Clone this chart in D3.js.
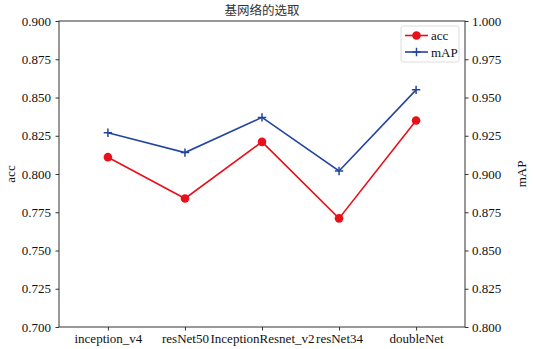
<!DOCTYPE html>
<html>
<head>
<meta charset="utf-8">
<script src="https://cdn.jsdelivr.net/npm/d3@7"></script>
<style>
  body { margin: 0; background: #fff; }
  svg text { font-family: "Liberation Serif", serif; }
  svg text.cjk { font-family: "Noto Sans CJK SC", sans-serif; }
</style>
</head>
<body>
<div id="chart"></div>
<script>
const categories = ["inception_v4", "resNet50", "InceptionResnet_v2", "resNet34", "doubleNet"];
const accValues = [0.811, 0.784, 0.821, 0.771, 0.835];
const mapValues = [0.927, 0.914, 0.937, 0.902, 0.955];
const accTicks = [0.700, 0.725, 0.750, 0.775, 0.800, 0.825, 0.850, 0.875, 0.900];
const mapTicks = [0.800, 0.825, 0.850, 0.875, 0.900, 0.925, 0.950, 0.975, 1.000];

const width = 533, height = 349;
const marginTop = 21, marginRight = 68, marginBottom = 22, marginLeft = 59;
const accColor = "#e8101a", mapColor = "#2345a0";
const fontSize = 13;

const svg = d3.select("#chart").append("svg")
  .attr("width", width).attr("height", height)
  .attr("viewBox", [0, 0, width, height]);

// scales
const x = d3.scaleLinear()
  .domain([-0.635, categories.length - 1 + 0.635])
  .range([marginLeft, width - marginRight]);
const yAcc = d3.scaleLinear().domain([0.7, 0.9]).range([height - marginBottom, marginTop]);
const yMap = d3.scaleLinear().domain([0.8, 1.0]).range([height - marginBottom, marginTop]);

// frame
svg.append("rect")
  .attr("x", marginLeft).attr("y", marginTop)
  .attr("width", width - marginRight - marginLeft)
  .attr("height", height - marginBottom - marginTop)
  .attr("fill", "none").attr("stroke", "#333").attr("stroke-width", 1);

// axes
const styleAxis = g => {
  g.attr("font-family", null).attr("font-size", fontSize);
  g.select(".domain").remove();
  g.selectAll(".tick line").attr("stroke", "#333");
  g.selectAll(".tick text").attr("fill", "#111");
};

svg.append("g")
  .attr("transform", `translate(0,${height - marginBottom})`)
  .call(d3.axisBottom(x).tickValues(d3.range(categories.length))
    .tickFormat(i => categories[i]).tickSize(3.5).tickPadding(3.5))
  .call(styleAxis);

svg.append("g")
  .attr("transform", `translate(${marginLeft},0)`)
  .call(d3.axisLeft(yAcc).tickValues(accTicks).tickFormat(d3.format(".3f")).tickSize(3.5).tickPadding(4.5))
  .call(styleAxis);

svg.append("g")
  .attr("transform", `translate(${width - marginRight},0)`)
  .call(d3.axisRight(yMap).tickValues(mapTicks).tickFormat(d3.format(".3f")).tickSize(3.5).tickPadding(3.5))
  .call(styleAxis);

// axis labels
svg.append("text")
  .attr("transform", `translate(15,${(marginTop + height - marginBottom) / 2}) rotate(-90)`)
  .attr("text-anchor", "middle").attr("fill", "#111").attr("font-size", fontSize)
  .text("acc");
svg.append("text")
  .attr("transform", `translate(526,${(marginTop + height - marginBottom) / 2}) rotate(-90)`)
  .attr("text-anchor", "middle").attr("fill", "#111").attr("font-size", fontSize)
  .text("mAP");

// title
svg.append("text")
  .attr("class", "cjk")
  .attr("x", (marginLeft + width - marginRight) / 2).attr("y", 15)
  .attr("text-anchor", "middle").attr("fill", "#333").attr("font-size", 12.5)
  .text("基网络的选取");

// acc line
const accLine = d3.line().x((d, i) => x(i)).y(d => yAcc(d));
svg.append("path").datum(accValues)
  .attr("fill", "none").attr("stroke", accColor).attr("stroke-width", 1.6)
  .attr("d", accLine);
svg.append("g").selectAll("circle").data(accValues).join("circle")
  .attr("cx", (d, i) => x(i)).attr("cy", d => yAcc(d)).attr("r", 4.3)
  .attr("fill", accColor);

// mAP line
const mapLine = d3.line().x((d, i) => x(i)).y(d => yMap(d));
svg.append("path").datum(mapValues)
  .attr("fill", "none").attr("stroke", mapColor).attr("stroke-width", 1.6)
  .attr("d", mapLine);
svg.append("g").selectAll("path").data(mapValues).join("path")
  .attr("d", (d, i) => {
    const cx = x(i), cy = yMap(d), s = 4.2;
    return `M${cx - s},${cy}H${cx + s}M${cx},${cy - s}V${cy + s}`;
  })
  .attr("stroke", mapColor).attr("stroke-width", 1.5);

// legend
const legend = svg.append("g").attr("transform", "translate(401,26)");
legend.append("rect")
  .attr("width", 58).attr("height", 36).attr("rx", 2)
  .attr("fill", "#fff").attr("stroke", "#ddd");
const items = [
  { label: "acc", color: accColor, marker: "circle" },
  { label: "mAP", color: mapColor, marker: "plus" }
];
items.forEach((it, k) => {
  const yy = 9.5 + k * 16.5;
  legend.append("line").attr("x1", 4).attr("x2", 27).attr("y1", yy).attr("y2", yy)
    .attr("stroke", it.color).attr("stroke-width", 1.6);
  if (it.marker === "circle") {
    legend.append("circle").attr("cx", 15.5).attr("cy", yy).attr("r", 4.3).attr("fill", it.color);
  } else {
    legend.append("path").attr("d", `M${15.5 - 4.2},${yy}H${15.5 + 4.2}M15.5,${yy - 4.2}V${yy + 4.2}`)
      .attr("stroke", it.color).attr("stroke-width", 1.5);
  }
  legend.append("text").attr("x", 30).attr("y", yy + 4.5)
    .attr("fill", "#111").attr("font-size", fontSize)
    .text(it.label);
});
</script>
</body>
</html>
